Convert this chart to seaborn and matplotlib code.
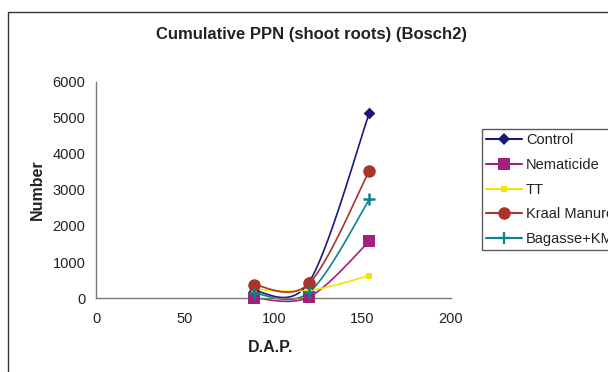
import numpy as np
import pandas as pd
import matplotlib
matplotlib.use("Agg")
import matplotlib.pyplot as plt
from matplotlib.lines import Line2D
from matplotlib.patches import Rectangle
import seaborn as sns

# Days after planting and cumulative nematode counts per treatment
dap = [89, 120, 154]
series_names = ["Control", "Nematicide", "TT", "Kraal Manure", "Bagasse+KM"]
control = [190, 450, 5150]
nematicide = [0, 30, 1580]
tt = [240, 210, 620]
kraal = [360, 410, 3540]
bagasse = [130, 160, 2740]

colors = ["#1c1a78", "#a3217e", "#f2e600", "#a8342a", "#0a8585"]
markers = ["D", "s", "s", "o", "+"]
msizes = [6, 9, 5, 9, 8]

sns.set_theme(style="white")
plt.rcParams["font.family"] = ["Liberation Sans", "DejaVu Sans"]

W, H = 608.0, 372.0
fig = plt.figure(figsize=(W / 100, H / 100), dpi=100)
fig.patch.set_facecolor("white")
ax_l, ax_r, ax_t, ax_b = 96.5, 451.0, 82.0, 298.0
ax = fig.add_axes([ax_l / W, 1 - ax_b / H, (ax_r - ax_l) / W, (ax_b - ax_t) / H])

xlim = (0, 200)
ylim = (0, 6000)
ax_w, ax_h = ax_r - ax_l, ax_b - ax_t


def smooth(xs, ys, n=40):
    """Smoothed line: cubic Bezier segments through the points, with
    control points computed in screen space."""
    px = (np.asarray(xs, float) - xlim[0]) / (xlim[1] - xlim[0]) * ax_w
    py = (np.asarray(ys, float) - ylim[0]) / (ylim[1] - ylim[0]) * ax_h
    P = np.column_stack([px, py])
    m = len(P)
    out = [P[0]]
    for i in range(m - 1):
        p0 = P[i - 1] if i > 0 else P[i]
        p3 = P[i + 2] if i + 2 < m else P[i + 1]
        c1 = P[i] + (P[i + 1] - p0) / 6.0
        c2 = P[i + 1] - (p3 - P[i]) / 6.0
        t = np.linspace(0, 1, n)[1:, None]
        seg = ((1 - t) ** 3) * P[i] + 3 * ((1 - t) ** 2) * t * c1 \
            + 3 * (1 - t) * t ** 2 * c2 + t ** 3 * P[i + 1]
        out.extend(seg)
    out = np.array(out)
    sx = out[:, 0] / ax_w * (xlim[1] - xlim[0]) + xlim[0]
    sy = out[:, 1] / ax_h * (ylim[1] - ylim[0]) + ylim[0]
    return sx, sy


all_values = [control, nematicide, tt, kraal, bagasse]
rows = []
pts = []
for name, vals in zip(series_names, all_values):
    sx, sy = smooth(dap, vals)
    for a, b in zip(sx, sy):
        rows.append({"DAP": a, "Number": b, "Treatment": name})
    for a, b in zip(dap, vals):
        pts.append({"DAP": a, "Number": b, "Treatment": name})
curve_df = pd.DataFrame(rows)
pts_df = pd.DataFrame(pts)
palette = dict(zip(series_names, colors))

sns.lineplot(data=curve_df, x="DAP", y="Number", hue="Treatment",
             palette=palette, sort=False, estimator=None, units="Treatment",
             linewidth=1.2, legend=False, ax=ax)
for name, mk, ms in zip(series_names, markers, msizes):
    sub = pts_df[pts_df["Treatment"] == name]
    kw = dict(marker=mk, s=ms ** 2, color=palette[name], ax=ax, legend=False, zorder=5)
    kw.update(linewidth=1.8 if mk == "+" else 0)
    sns.scatterplot(data=sub, x="DAP", y="Number", **kw)

ax.set_xlim(*xlim)
ax.set_ylim(*ylim)
ax.set_xticks([0, 50, 100, 150, 200])
ax.set_yticks([0, 1000, 2000, 3000, 4000, 5000, 6000])
ax.set_xlabel("")
ax.set_ylabel("")
for side in ["top", "right"]:
    ax.spines[side].set_visible(False)
for side in ["left", "bottom"]:
    ax.spines[side].set_color("#7a7a7a")
    ax.spines[side].set_linewidth(1.0)
ax.tick_params(axis="both", which="major", direction="out", length=4, width=1,
               color="#7a7a7a", labelsize=10.5, labelcolor="#222222")
ax.tick_params(axis="x", pad=6)
ax.tick_params(axis="y", pad=4)
ax.set_facecolor("white")
for ln in ax.lines:
    ln.set_clip_on(False)
for c in ax.collections:
    c.set_clip_on(False)

fig.text(311 / W, 1 - 34 / H, "Cumulative PPN (shoot roots) (Bosch2)",
         ha="center", va="center", fontsize=12, fontweight="bold", color="#222222")
fig.text(37 / W, 1 - 190 / H, "Number", rotation=90, ha="center", va="center",
         fontsize=11.5, fontweight="bold", color="#222222")
fig.text(271 / W, 1 - 347 / H, "D.A.P.", ha="center", va="center",
         fontsize=11.5, fontweight="bold", color="#222222")

handles = []
for name, mk, ms in zip(series_names, markers, msizes):
    handles.append(Line2D([0], [0], color=palette[name], marker=mk,
                          markersize=ms if mk != "+" else 8,
                          markeredgewidth=1.6 if mk == "+" else 0,
                          linewidth=1.5, markerfacecolor=palette[name]))
# legend box runs past the right edge of the figure
leg = fig.legend(handles, series_names, loc="upper left",
                 bbox_to_anchor=(481.5 / W, 1 - 252 / H, 0.3, 123 / H),
                 bbox_transform=fig.transFigure, mode="expand",
                 fontsize=10.5, frameon=True,
                 fancybox=False, shadow=False, handlelength=2.5,
                 handletextpad=0.25, labelspacing=0.73, borderpad=0.3,
                 borderaxespad=0)
leg.get_frame().set_edgecolor("#333333")
leg.get_frame().set_linewidth(1.0)
for t in leg.get_texts():
    t.set_color("#222222")

# outer chart frame
frame = Rectangle((7.5 / W, -0.1), 1.2, 1.1 - 12 / H, transform=fig.transFigure,
                  fill=False, edgecolor="#333333", linewidth=1.0, zorder=10)
fig.patches.append(frame)

fig.savefig("out.png", dpi=100, facecolor="white")
